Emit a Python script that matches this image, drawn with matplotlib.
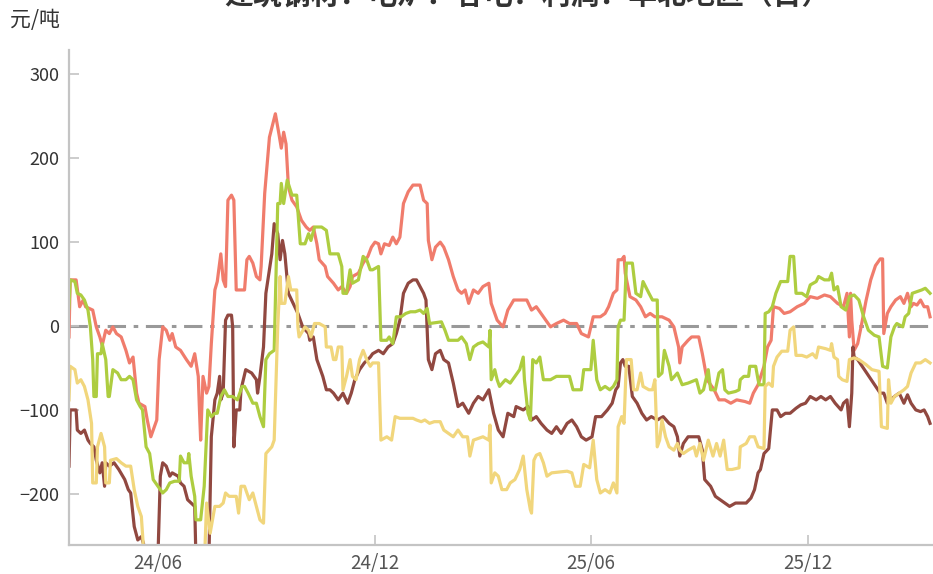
import matplotlib as mpl
mpl.use('Agg')
import matplotlib.pyplot as plt
import pandas as pd

plt.rcParams['font.family'] = ['Noto Sans CJK SC', 'DejaVu Sans']
plt.rcParams['axes.unicode_minus'] = True

START = '2024-03-18'
title = '建筑钢材：电炉：谷电：利润：华北地区（日）'
unit = '元/吨'
tick_dates = ['2024-06-01', '2024-12-01', '2025-06-01', '2025-12-01']
tick_labels = ['24/06', '24/12', '25/06', '25/12']

# day offsets from START, values in 元/吨
red_day = [0, 1, 6, 9, 12, 14, 20, 23, 26, 28, 31, 34, 37, 40, 44, 48, 51, 54, 57, 59, 64, 66, 69, 72, 74, 76, 79, 82, 85, 87,
           90, 94, 99, 103, 106, 109, 110, 111, 113, 116, 118, 120, 123, 125, 128, 130, 132, 134, 137, 139, 141, 145, 148, 150,
           152, 155, 158, 161, 162, 165, 169, 174, 177, 179, 181, 183, 185, 188, 192, 196, 200, 203, 206, 209, 211, 216, 218,
           223, 227, 230, 234, 237, 239, 244, 248, 252, 255, 258, 261, 263, 266, 270, 273, 276, 279, 282, 286, 290, 296, 299,
           302, 303, 306, 309, 313, 316, 320, 324, 328, 331, 334, 337, 341, 345, 349, 354, 356, 361, 366, 370, 375, 386, 390,
           394, 400, 406, 411, 417, 422, 428, 432, 438, 442, 448, 452, 455, 459, 462, 463, 466, 468, 469, 473, 478, 482, 486,
           490, 494, 500, 506, 510, 514, 515, 517, 522, 525, 531, 534, 538, 544, 548, 553, 558, 563, 570, 574, 577, 581, 586,
           589, 592, 594, 599, 603, 608, 614, 620, 625, 631, 637, 642, 648, 653, 656, 658, 659, 660, 662, 665, 668, 672, 676,
           680, 684, 686, 687, 690, 693, 697, 701, 704, 707, 710, 712, 715, 718, 721, 724, 726]
red_val = [-13, 55, 55, 23, 31, 23, 19, -1, -13, -23, -5, -9, -1, -9, -13, -29, -44, -37, -80, -92, -96, -112, -132, -120, -112,
           -40, -1, -5, -17, -9, -25, -29, -40, -48, -33, -60, -100, -136, -60, -80, -72, -21, 43, 53, 86, 55, 47, 150, 156, 150,
           43, 43, 43, 79, 83, 75, 59, 55, 71, 158, 225, 253, 229, 212, 231, 217, 166, 150, 142, 126, 118, 114, 118, 98, 79, 71,
           59, 51, 43, 47, 39, 47, 59, 63, 75, 83, 94, 100, 98, 86, 98, 96, 106, 98, 106, 146, 160, 168, 168, 150, 146, 102, 79,
           94, 100, 94, 79, 59, 43, 39, 43, 27, 43, 39, 47, 51, 27, 7, -1, 19, 31, 31, 19, 23, 11, -1, 3, 7, 3, 3, -9, -13, 11,
           11, 15, 23, 39, 43, 79, 79, 83, 63, 35, 31, 23, 11, 15, 11, 11, 7, -1, -25, -44, -25, -17, -13, -13, -33, -64, -76,
           -88, -88, -92, -88, -90, -92, -80, -70, -48, -25, -17, 23, 21, 15, 17, 23, 27, 35, 33, 37, 35, 27, 23, 39, -13, 39, 7,
           -29, -21, 0, 30, 55, 72, 80, 80, -9, 15, 23, 31, 35, 27, 39, 23, 27, 25, 31, 23, 23, 11]

brown_day = [0, 1, 6, 7, 10, 13, 16, 18, 21, 23, 26, 28, 30, 31, 34, 38, 42, 47, 50, 52, 55, 58, 61, 64, 67, 72, 75, 77, 79, 82,
             85, 87, 92, 94, 97, 100, 103, 106, 107, 112, 118, 120, 123, 125, 127, 128, 130, 132, 134, 137, 138, 139, 141, 144,
             145, 149, 154, 158, 159, 161, 164, 166, 171, 173, 176, 178, 180, 182, 185, 189, 193, 197, 202, 203, 206, 209, 211,
             214, 217, 220, 223, 227, 231, 235, 238, 241, 245, 249, 254, 256, 261, 265, 269, 273, 276, 279, 282, 286, 290, 293,
             299, 301, 303, 306, 309, 313, 316, 320, 324, 328, 332, 337, 341, 345, 349, 354, 358, 362, 366, 370, 375, 377, 383,
             387, 390, 394, 398, 403, 407, 411, 415, 420, 424, 428, 432, 436, 441, 444, 449, 454, 458, 461, 463, 465, 467, 469,
             472, 475, 479, 483, 487, 491, 496, 501, 506, 510, 513, 515, 518, 522, 531, 534, 536, 541, 545, 549, 553, 557, 562,
             571, 575, 578, 581, 583, 586, 590, 593, 597, 600, 604, 608, 613, 617, 621, 625, 630, 634, 638, 642, 646, 651, 653,
             656, 658, 660, 661, 662, 665, 684, 687, 690, 693, 696, 700, 704, 707, 710, 714, 718, 721, 724, 726]
brown_val = [-167, -100, -100, -124, -128, -124, -136, -140, -144, -160, -175, -163, -191, -163, -167, -163, -171, -183, -195,
             -199, -239, -255, -251, -265, -290, -290, -275, -179, -163, -167, -179, -175, -179, -187, -191, -207, -211, -215,
             -275, -290, -275, -132, -88, -80, -60, -88, -80, 7, 13, 13, -1, -144, -100, -100, -76, -52, -56, -64, -80, -60, -25,
             39, 86, 122, 110, 79, 102, 86, 39, 27, 15, -1, -9, -17, -13, -40, -48, -60, -76, -76, -80, -88, -80, -92, -80, -64,
             -52, -44, -37, -33, -29, -33, -25, -21, -9, 7, 39, 51, 55, 55, 39, 31, -40, -52, -33, -29, -40, -44, -68, -96, -92,
             -104, -92, -84, -88, -76, -104, -124, -132, -104, -108, -96, -100, -96, -112, -108, -116, -124, -128, -120, -128,
             -116, -112, -120, -132, -136, -132, -108, -108, -100, -92, -76, -72, -44, -40, -48, -48, -84, -92, -104, -112, -108,
             -112, -108, -116, -120, -132, -155, -140, -132, -132, -148, -183, -191, -203, -207, -211, -215, -211, -211, -205,
             -195, -175, -171, -152, -146, -100, -100, -108, -104, -104, -98, -94, -92, -84, -88, -84, -88, -84, -92, -100, -92,
             -88, -120, -80, -25, -37, -40, -80, -80, -92, -88, -84, -80, -92, -82, -92, -100, -102, -100, -108, -116]

green_day = [0, 1, 5, 7, 10, 13, 16, 18, 20, 21, 23, 24, 27, 28, 31, 33, 34, 37, 41, 44, 48, 51, 54, 57, 60, 62, 65, 68, 71, 75,
             79, 82, 85, 89, 93, 94, 97, 100, 101, 103, 106, 107, 111, 114, 117, 120, 123, 125, 128, 131, 134, 138, 142, 146,
             148, 151, 155, 158, 161, 164, 166, 169, 173, 176, 178, 179, 181, 184, 188, 192, 195, 199, 202, 204, 207, 213, 217,
             220, 227, 230, 231, 234, 237, 239, 244, 248, 251, 254, 256, 261, 263, 268, 270, 273, 276, 280, 284, 288, 292, 296,
             299, 302, 304, 314, 317, 320, 328, 331, 335, 338, 341, 345, 349, 354, 355, 356, 359, 361, 363, 368, 372, 376, 380,
             383, 384, 387, 389, 391, 394, 397, 400, 406, 411, 422, 425, 432, 434, 440, 442, 445, 448, 452, 456, 459, 462, 463,
             465, 468, 470, 475, 478, 482, 484, 489, 492, 496, 497, 500, 502, 506, 508, 513, 517, 522, 529, 532, 535, 539, 541,
             545, 548, 551, 553, 556, 562, 565, 566, 569, 573, 574, 579, 581, 582, 586, 587, 590, 593, 596, 600, 606, 608, 611,
             613, 618, 622, 625, 630, 632, 637, 641, 643, 645, 648, 651, 655, 658, 662, 666, 670, 674, 679, 683, 686, 690, 693,
             696, 698, 703, 705, 708, 711, 715, 719, 722, 726]
green_val = [21, 55, 53, 39, 37, 31, 19, -1, -40, -84, -84, -33, -33, -21, -40, -84, -84, -52, -56, -64, -64, -60, -64, -88, -96,
             -100, -144, -152, -183, -191, -199, -195, -187, -185, -185, -155, -163, -163, -152, -179, -203, -231, -231, -191,
             -100, -108, -104, -104, -84, -76, -84, -84, -88, -72, -72, -80, -92, -92, -108, -120, -40, -33, -29, 146, 146, 170,
             146, 174, 156, 156, 98, 98, 110, 102, 118, 118, 114, 86, 86, 71, 39, 39, 67, 51, 55, 83, 79, 67, 67, 71, -17, -17,
             -13, -21, 11, 11, 15, 17, 17, 19, 15, 21, 3, 5, -5, -17, -17, -13, -21, -40, -25, -21, -19, -25, -5, -64, -52, -64,
             -72, -64, -68, -60, -52, -37, -64, -104, -112, -40, -44, -37, -64, -64, -60, -60, -76, -76, -52, -52, -17, -64, -76,
             -72, -76, -72, -64, -1, 7, 7, 75, 75, 39, 35, 53, 39, 31, 31, -60, -56, -29, -48, -64, -56, -70, -68, -64, -80, -76,
             -52, -76, -76, -56, -52, -76, -80, -78, -76, -64, -60, -60, -48, -48, -64, -70, -70, 15, 17, 23, 39, 53, 53, 83, 83,
             39, 39, 35, 49, 53, 59, 55, 55, 63, 43, 47, 23, 19, 35, 37, 31, 11, -5, -11, -13, -48, -50, -13, -1, 3, -1, 11, 15,
             39, 41, 43, 45, 39]

yellow_day = [0, 1, 5, 7, 10, 13, 16, 19, 20, 23, 24, 27, 30, 31, 34, 35, 40, 44, 48, 52, 55, 58, 61, 64, 114, 116, 119, 123,
              127, 130, 132, 135, 141, 143, 145, 148, 152, 155, 158, 161, 164, 166, 171, 173, 176, 178, 179, 182, 185, 187, 192,
              193, 194, 199, 202, 204, 207, 211, 216, 217, 221, 223, 225, 227, 230, 231, 234, 237, 239, 242, 245, 248, 251, 254,
              256, 261, 263, 268, 272, 275, 279, 290, 293, 297, 300, 304, 308, 313, 316, 320, 324, 328, 332, 336, 338, 341, 345,
              349, 354, 355, 356, 359, 362, 365, 369, 372, 376, 380, 383, 386, 389, 390, 392, 394, 397, 400, 403, 407, 420, 424,
              427, 431, 434, 439, 442, 445, 448, 452, 456, 459, 462, 463, 466, 468, 470, 474, 476, 479, 482, 484, 489, 492, 494,
              496, 498, 500, 503, 506, 510, 513, 515, 518, 522, 527, 529, 532, 535, 539, 543, 546, 549, 552, 555, 559, 565, 566,
              571, 574, 578, 581, 586, 587, 590, 593, 594, 597, 601, 606, 608, 611, 613, 618, 622, 627, 630, 632, 638, 642, 643,
              645, 648, 649, 652, 656, 658, 662, 666, 672, 677, 683, 685, 690, 691, 693, 696, 700, 704, 707, 710, 714, 718, 722,
              726]
yellow_val = [-88, -48, -52, -68, -64, -72, -88, -116, -187, -187, -144, -128, -144, -187, -187, -160, -158, -163, -167, -167,
              -195, -215, -227, -290, -290, -211, -247, -215, -215, -211, -199, -203, -203, -223, -191, -191, -207, -199, -215,
              -231, -235, -152, -144, -136, -1, 59, 27, 27, 59, 43, 43, -1, -13, -1, -5, -13, 3, 3, -1, -25, -25, -40, -40, -25,
              -25, -76, -60, -40, -60, -64, -40, -29, -40, -48, -44, -44, -136, -132, -136, -108, -110, -110, -112, -114, -112,
              -116, -114, -114, -124, -128, -132, -124, -132, -132, -155, -136, -134, -132, -136, -118, -187, -175, -179, -195,
              -195, -187, -183, -171, -155, -195, -219, -223, -160, -154, -152, -163, -179, -175, -173, -175, -191, -191, -165,
              -169, -136, -183, -199, -195, -199, -187, -199, -120, -108, -116, -40, -40, -76, -76, -56, -72, -76, -76, -64, -144,
              -136, -112, -132, -144, -148, -140, -148, -152, -148, -144, -155, -140, -160, -136, -155, -140, -155, -136, -171,
              -171, -169, -144, -140, -132, -132, -144, -146, -72, -68, -72, -48, -37, -30, -30, -5, -1, -35, -35, -37, -33, -38,
              -25, -27, -29, -21, -37, -40, -60, -64, -66, -40, -38, -40, -46, -52, -54, -120, -122, -64, -92, -84, -80, -76, -72,
              -56, -44, -44, -40, -44]

series = [
    (red_day, red_val, '#f07c6c'),
    (brown_day, brown_val, '#914840'),
    (green_day, green_val, '#aecd40'),
    (yellow_day, yellow_val, '#f1d67c'),
]

start = pd.Timestamp(START)

fig = plt.figure(figsize=(9.33, 5.74), dpi=100)
ax = fig.add_axes([69 / 933, 29 / 574, 864 / 933, 495 / 574])

ax.axhline(0, color='#999999', lw=2.2, dashes=(6, 2.5, 1.5, 2.5), zorder=1)
for days, vals, c in series:
    x = start + pd.to_timedelta(days, unit='D')
    ax.plot(x, vals, color=c, lw=2.3, solid_joinstyle='round', zorder=2)

ax.set_xlim(start, start + pd.Timedelta(days=728.5))
ax.set_ylim(-261, 329)
ax.set_yticks([-200, -100, 0, 100, 200, 300])
ax.set_xticks(pd.to_datetime(tick_dates))
ax.set_xticklabels(tick_labels)

for s in ['top', 'right']:
    ax.spines[s].set_visible(False)
for s in ['left', 'bottom']:
    ax.spines[s].set_color('#c4c4c4')
    ax.spines[s].set_linewidth(1.6)
ax.tick_params(axis='both', direction='in', length=7.5, width=1.2, color='#c4c4c4')
ax.tick_params(axis='y', labelsize=13, labelcolor='#333333', pad=7)
ax.tick_params(axis='x', labelsize=13.5, labelcolor='#555555', pad=6)
for lbl in ax.get_xticklabels():
    lbl.set_fontstretch('expanded')

fig.text(10 / 933, 1 - 20 / 574, unit, fontsize=15, color='#333333', ha='left', va='center')
fig.text(527 / 933, 1 - 5 / 574, title, fontsize=20.8, fontweight='bold', color='#333333',
         ha='center', va='baseline')

fig.savefig('out.png', dpi=100)
